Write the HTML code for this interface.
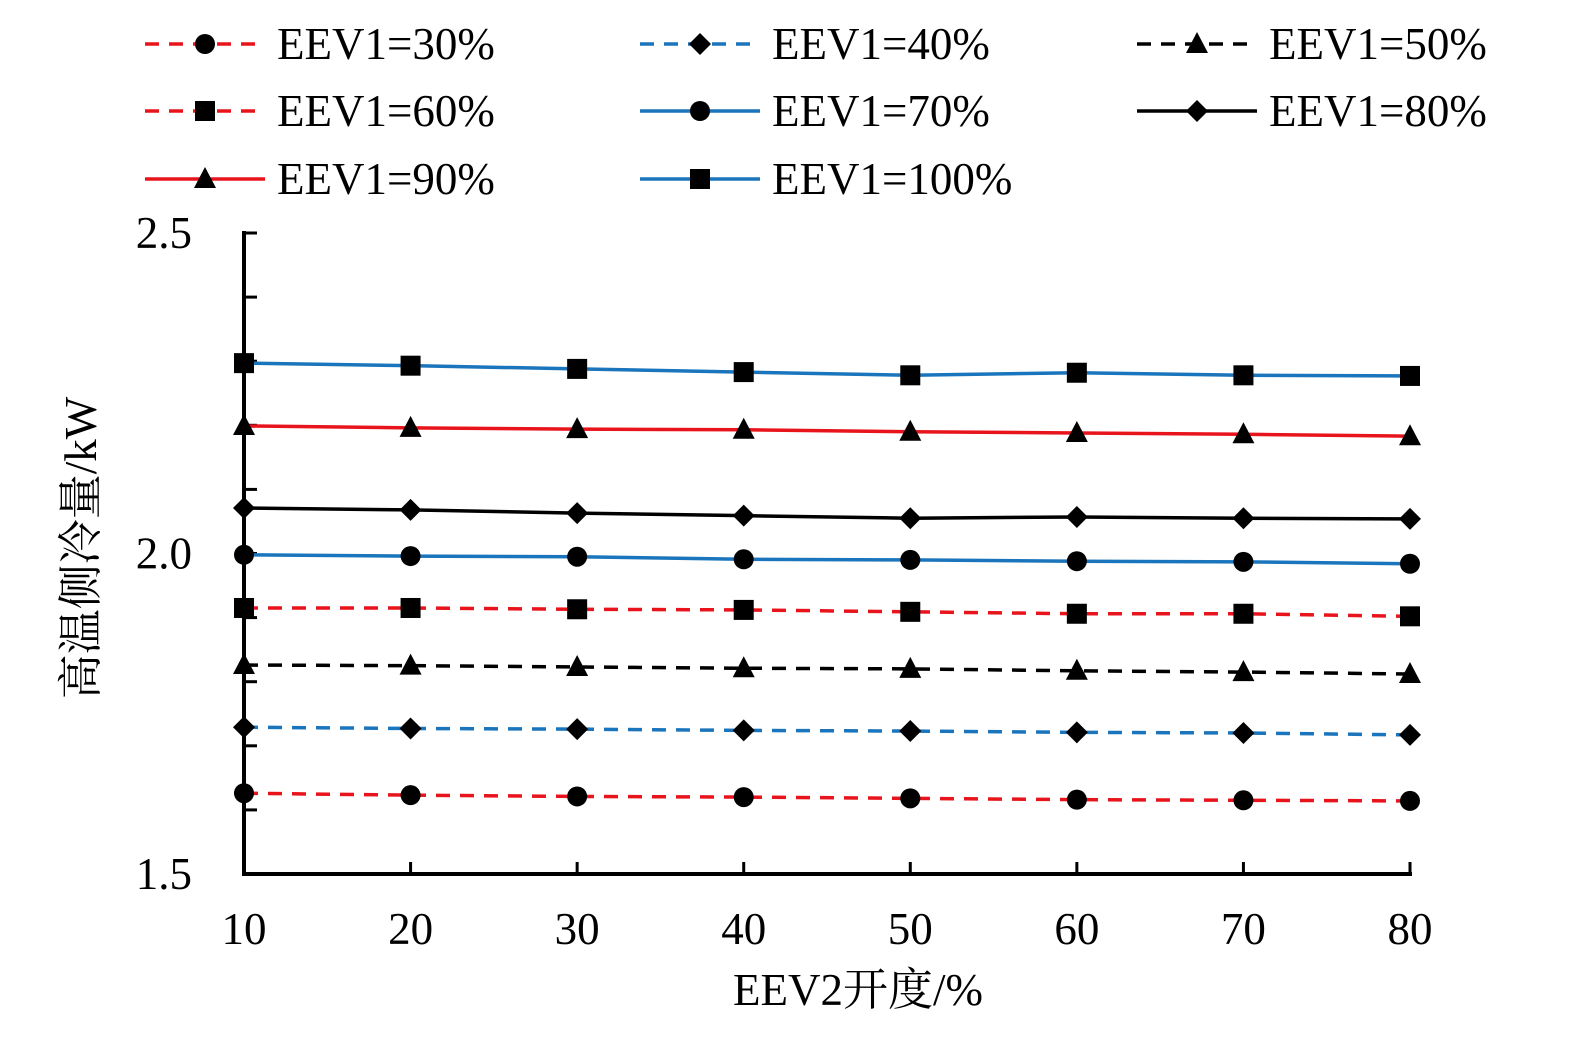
<!DOCTYPE html>
<html><head><meta charset="utf-8"><style>
body{margin:0;background:#fff}
svg text{font-family:"Liberation Serif","Noto Serif CJK SC",serif;fill:#000}
</style></head><body>
<svg id="chart" width="1572" height="1040" xmlns="http://www.w3.org/2000/svg"></svg>
<script>
const categories=[10,20,30,40,50,60,70,80];
const s30=[1.626,1.623,1.621,1.620,1.618,1.616,1.615,1.614];
const s40=[1.729,1.727,1.726,1.724,1.723,1.721,1.720,1.717];
const s50=[1.826,1.825,1.823,1.821,1.820,1.817,1.815,1.812];
const s60=[1.915,1.915,1.913,1.912,1.909,1.906,1.906,1.902];
const s70=[1.998,1.996,1.995,1.991,1.990,1.988,1.987,1.984];
const s80=[2.071,2.068,2.063,2.059,2.055,2.057,2.055,2.054];
const s90=[2.199,2.196,2.194,2.193,2.190,2.188,2.186,2.183];
const s100=[2.297,2.293,2.288,2.283,2.278,2.282,2.278,2.277];
const yTicks=["1.5","2.0","2.5"];
const seriesNames=["EEV1=30%","EEV1=40%","EEV1=50%","EEV1=60%","EEV1=70%","EEV1=80%","EEV1=90%","EEV1=100%"];

const NS="http://www.w3.org/2000/svg";
const svg=document.getElementById('chart');
const RED="#e8141c",BLUE="#1a75bc",BLK="#000";
const FS=45;
const x=v=>244+(v-10)/70*1166;
const y=v=>874-(v-1.5)/1.0*641;
function el(t,a,p){const e=document.createElementNS(NS,t);for(const k in a)e.setAttribute(k,a[k]);(p||svg).appendChild(e);return e;}
function marker(g,type,cx,cy){
  let m;
  if(type==='circle')m=el('circle',{cx,cy,r:10,fill:BLK},g);
  else if(type==='diamond')m=el('polygon',{points:`${cx},${cy-11} ${cx+11},${cy} ${cx},${cy+11} ${cx-11},${cy}`,fill:BLK},g);
  else if(type==='tri')m=el('polygon',{points:`${cx},${cy-12} ${cx+11},${cy+9} ${cx-11},${cy+9}`,fill:BLK},g);
  else m=el('rect',{x:cx-10,y:cy-10,width:20,height:20,fill:BLK},g);
  return m;
}
const ax=el('g',{});


el('line',{x1:244,y1:231,x2:244,y2:876,stroke:BLK,'stroke-width':4},ax);
el('line',{x1:242,y1:874,x2:1412,y2:874,stroke:BLK,'stroke-width':4},ax);
for(let i=0;i<=10;i++){const v=1.5+i*0.1;el('line',{x1:244,y1:y(v),x2:257,y2:y(v),stroke:BLK,'stroke-width':3},ax);}
categories.forEach(c=>{el('line',{x1:x(c),y1:874,x2:x(c),y2:862,stroke:BLK,'stroke-width':3},ax);
 const t=el('text',{x:x(c),y:944,'font-size':FS,'text-anchor':'middle'},ax);t.textContent=c;
 
 });
yTicks.forEach(s=>{const t=el('text',{x:192,y:y(parseFloat(s))+15,'font-size':FS,'text-anchor':'end'},ax);t.textContent=s;
 
 });
const xt=el('text',{x:858,y:1005,'font-size':FS,'text-anchor':'middle'});xt.textContent="EEV2开度/%";


const yt=el('text',{x:0,y:0,'font-size':FS,'text-anchor':'middle',transform:'translate(96,548) rotate(-90)'});yt.textContent="高温侧冷量/kW";



const defs=[[s30,RED,true,'circle'],[s40,BLUE,true,'diamond'],[s50,BLK,true,'tri'],[s60,RED,true,'square'],
[s70,BLUE,false,'circle'],[s80,BLK,false,'diamond'],[s90,RED,false,'tri'],[s100,BLUE,false,'square']];
const legPos=[[145,44],[640,44],[1137,44],[145,111],[640,111],[1137,111],[145,179],[640,179]];
defs.forEach((d,i)=>{
  const [vals,col,dash,mk]=d;
  const g=el('g',{});
  
  
  const pts=categories.map((c,j)=>x(c)+','+y(vals[j])).join(' ');
  const a={points:pts,fill:'none',stroke:col,'stroke-width':3.5};
  if(dash)a['stroke-dasharray']='14,10';
  el('polyline',a,g);
  categories.forEach((c,j)=>{const m=marker(g,mk,x(c),y(vals[j]));
    
    });
  const [lx,ly]=legPos[i];
  const lg=el('g',{});
  
  
  const la={x1:lx,y1:ly,x2:lx+120,y2:ly,stroke:col,'stroke-width':3.5};
  if(dash)la['stroke-dasharray']='14,10';
  el('line',la,lg);
  marker(lg,mk,lx+60,ly);
  const t=el('text',{x:lx+132,y:ly+15,'font-size':FS},lg);t.textContent=seriesNames[i];
});
</script>
</body></html>
